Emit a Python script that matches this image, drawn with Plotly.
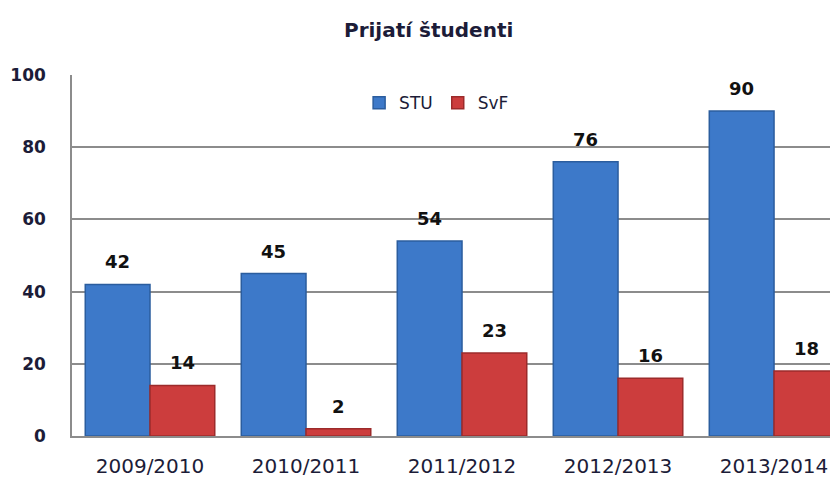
import plotly.graph_objects as go

categories = ["2009/2010", "2010/2011", "2011/2012", "2012/2013", "2013/2014"]
stu_values = [42, 45, 54, 76, 90]
svf_values = [14, 2, 23, 16, 18]
series_names = ["STU", "SvF"]
title_text = "Prijatí študenti"
y_ticks = [0, 20, 40, 60, 80, 100]

FONT = "DejaVu Sans"
TXT = "#1c1c38"

fig = go.Figure()
fig.add_trace(go.Bar(
    name=series_names[0], x=categories, y=stu_values,
    marker=dict(color="#3d79c9", line=dict(color="#2b5d9e", width=1.5)),
))
fig.add_trace(go.Bar(
    name=series_names[1], x=categories, y=svf_values,
    marker=dict(color="#cc3d3d", line=dict(color="#9c2b2b", width=1.5)),
))

bargap = 0.17
half = (1 - bargap) / 4  # center offset of each bar in category units
px_per_cat = 156
annotations = []
for vals, sign in ((stu_values, -1), (svf_values, 1)):
    for c, v in zip(categories, vals):
        annotations.append(dict(
            x=c, y=v, xref="x", yref="y", text="<b>%d</b>" % v,
            showarrow=False, yanchor="bottom", xanchor="center",
            xshift=sign * half * px_per_cat, yshift=10,
            font=dict(family=FONT, size=18, color="#111111"),
        ))

fig.update_layout(
    width=838, height=479,
    margin=dict(l=64, r=8, t=67, b=51, autoexpand=False),
    paper_bgcolor="white", plot_bgcolor="white",
    barmode="group", bargap=bargap, bargroupgap=0,
    title=dict(text="<b>%s</b>" % title_text, x=0.502, xanchor="center",
               y=1 - 22 / 479, yanchor="middle", yref="container",
               font=dict(family=FONT, size=20, color=TXT)),
    legend=dict(orientation="h", x=0.476, xanchor="center", y=0.922, yanchor="middle",
                font=dict(family=FONT, size=17, color=TXT), bgcolor="rgba(0,0,0,0)",
                itemwidth=30, traceorder="normal"),
    annotations=annotations,
    showlegend=True,
)
fig.update_xaxes(
    type="category", range=[-0.5, 4.41], showgrid=False, automargin=False,
    showline=True, linecolor="#8c8c8c", linewidth=1.5,
    tickfont=dict(family=FONT, size=20, color=TXT), ticks="",
    ticklabelstandoff=11,
)
fig.update_yaxes(
    range=[0, 100], tickvals=y_ticks, showgrid=True, gridcolor="#8c8c8c", gridwidth=1.5,
    showline=True, linecolor="#8c8c8c", linewidth=1.5, zeroline=False, automargin=False,
    tickfont=dict(family=FONT, size=17, color=TXT, weight="bold"), ticks="",
    ticklabelstandoff=21,
)

fig.write_html("out.html")
